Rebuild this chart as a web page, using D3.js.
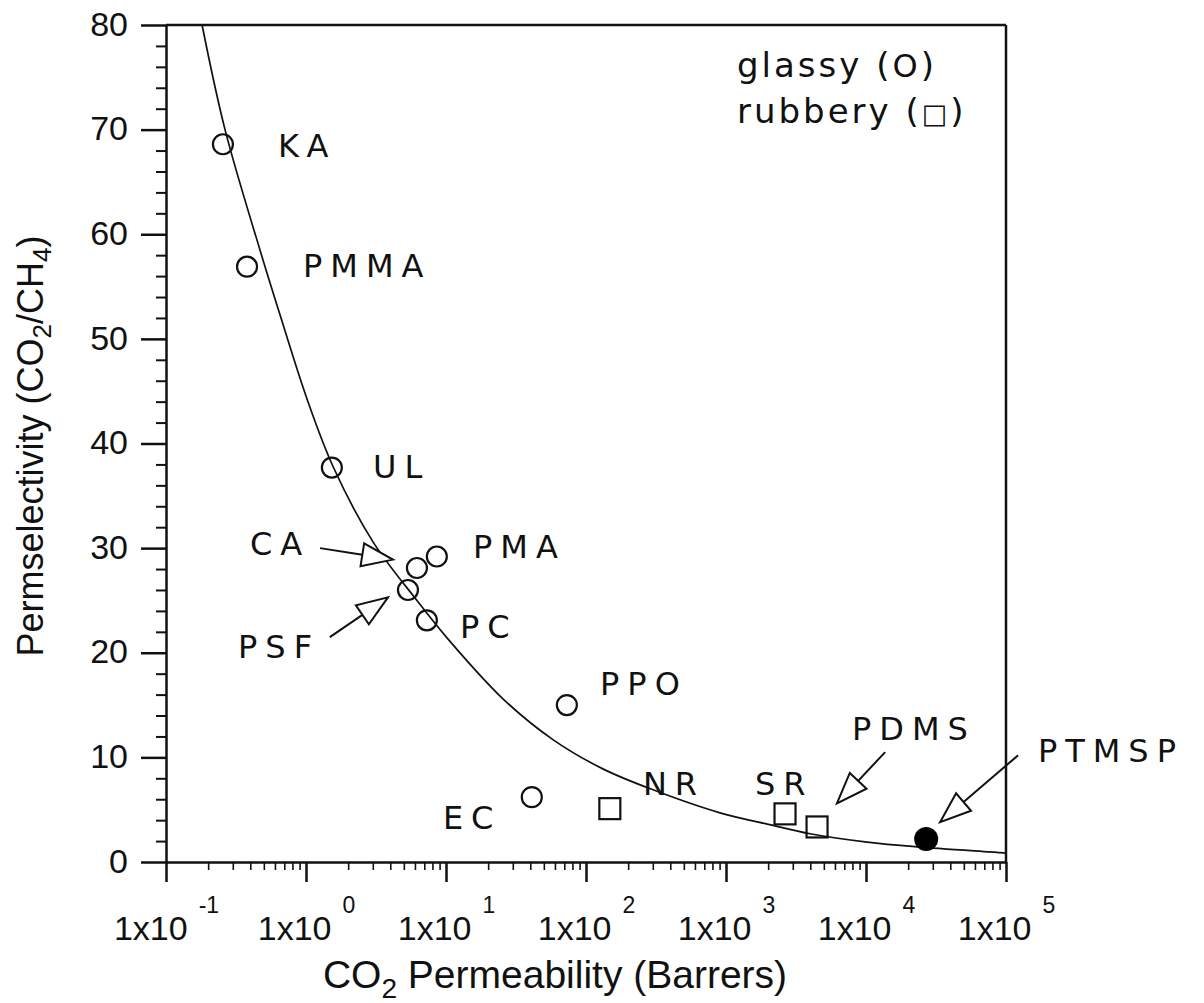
<!DOCTYPE html>
<html>
<head>
<meta charset="utf-8">
<script src="https://cdn.jsdelivr.net/npm/d3@7"></script>
<style>
  body { margin: 0; background: #fff; }
  svg { display: block; }
</style>
</head>
<body>
<div id="chart"></div>
<script>
// points
const polymers    = ["KA", "PMMA", "UL", "CA", "PMA", "PSF", "PC", "PPO", "EC", "NR", "SR", "PDMS", "PTMSP"];
const co2Perm     = [0.255, 0.379, 1.53, 6.2, 8.6, 5.35, 7.3, 73, 41, 148, 2640, 4470, 26900];
const selectivity = [68.6, 56.9, 37.7, 28.1, 29.2, 26.0, 23.1, 15.0, 6.2, 5.1, 4.6, 3.35, 2.2];
const polymerType = ["glassy", "glassy", "glassy", "glassy", "glassy", "glassy", "glassy", "glassy", "glassy",
                     "rubbery", "rubbery", "rubbery", "ptmsp"];

// where each name is written (data units, left end of baseline)
const labelPerm = [0.631, 0.953, 3.01, 0.398, 15.6, 0.327, 12.6, 126, 9.5, 255, 1610, 7940, 169000];
const labelSel  = [67.4, 55.9, 36.7, 29.35, 29.1, 19.5, 21.4, 16.0, 3.15, 6.4, 6.4, 11.66, 9.56];

// arrows pointing from a label to its point
const arrowFromPerm = [1.26, 1.48, 13700, 122000];
const arrowFromSel  = [30.0, 21.5, 10.5, 10.2];
const arrowToPerm   = [4.18, 3.85, 6200, 33800];
const arrowToSel    = [28.9, 25.3, 5.6, 3.8];

// trade-off curve
const curvePerm = [0.181, 0.264, 0.469, 0.652, 1.02, 1.56, 3.01, 6.2, 10.2, 25.5, 58, 132, 301, 906, 2170, 3980, 10200, 23100, 90600, 100000];
const curveSel  = [80.0, 70.0, 58.5, 52.3, 44.2, 37.8, 30.6, 25.0, 21.4, 15.6, 11.7, 8.9, 6.9, 4.7, 3.5, 2.7, 1.9, 1.45, 0.9, 0.85];

const yTicks     = [0, 10, 20, 30, 40, 50, 60, 70, 80];
const xDecades   = [1e-1, 1e0, 1e1, 1e2, 1e3, 1e4, 1e5];
const xExponents = ["-1", "0", "1", "2", "3", "4", "5"];
const legendNames   = ["glassy", "rubbery"];
const legendSymbols = ["O", "\u25A1"];

const width = 1204, height = 1003;
const margin = {top: 25, right: 198, bottom: 141, left: 166};
const innerWidth = width - margin.left - margin.right;
const innerHeight = height - margin.top - margin.bottom;

const svg = d3.select("#chart")
    .append("svg")
    .attr("width", width)
    .attr("height", height)
    .style("background", "#fff");

const g = svg.append("g")
    .attr("transform", `translate(${margin.left},${margin.top})`);

const x = d3.scaleLog().domain([0.1, 1e5]).range([0, innerWidth]);
const y = d3.scaleLinear().domain([0, 80]).range([innerHeight, 0]);

const ink = "#111";
const tickFont = "'Liberation Sans', Arial, sans-serif";
const labelFont = "'DejaVu Sans', sans-serif";

// minor y ticks every 2
const yMinor = d3.range(0, 81, 2).filter(v => v % 10 !== 0);
g.append("g")
    .call(d3.axisLeft(y).tickValues(yMinor).tickSize(10).tickSizeOuter(0).tickFormat(""))
    .call(a => a.select(".domain").remove())
    .call(a => a.selectAll("line").attr("stroke", ink).attr("stroke-width", 2));

// major y ticks
g.append("g")
    .attr("class", "y-axis")
    .call(d3.axisLeft(y).tickValues(yTicks).tickSize(25).tickSizeOuter(0).tickPadding(13))
    .call(a => a.select(".domain").attr("stroke", ink).attr("stroke-width", 2.5))
    .call(a => a.selectAll("line").attr("stroke", ink).attr("stroke-width", 2.5))
    .call(a => a.selectAll("text")
        .attr("font-family", tickFont)
        .attr("font-size", 34)
        .attr("fill", ink)
        .attr("dy", "0.3em"));

// minor x ticks 2..9 in each decade
const xMinor = [];
xDecades.slice(0, -1).forEach(d => { for (let k = 2; k <= 9; k++) xMinor.push(d * k); });
g.append("g")
    .attr("transform", `translate(0,${innerHeight})`)
    .call(d3.axisBottom(x).tickValues(xMinor).tickSize(8).tickSizeOuter(0).tickFormat(""))
    .call(a => a.select(".domain").remove())
    .call(a => a.selectAll("line").attr("stroke", ink).attr("stroke-width", 1.6));

// major x ticks with 1x10^n labels
const xAxis = g.append("g")
    .attr("class", "x-axis")
    .attr("transform", `translate(0,${innerHeight})`)
    .call(d3.axisBottom(x).tickValues(xDecades).tickSize(20).tickSizeOuter(0).tickFormat(() => "1x10"))
    .call(a => a.select(".domain").attr("stroke", ink).attr("stroke-width", 2.5))
    .call(a => a.selectAll("line").attr("stroke", ink).attr("stroke-width", 2.5));

xAxis.selectAll("text")
    .attr("y", 78)
    .attr("dy", null)
    .attr("font-family", tickFont)
    .attr("font-size", 34)
    .attr("fill", ink)
    .each(function(d, i) {
        d3.select(this).append("tspan")
            .attr("dx", 11)
            .attr("dy", -27)
            .attr("font-size", 23)
            .text(xExponents[i]);
    });

// box: top and right edges
g.append("line")
    .attr("x1", 0).attr("x2", innerWidth)
    .attr("y1", 0).attr("y2", 0)
    .attr("stroke", ink).attr("stroke-width", 2.5);
g.append("line")
    .attr("x1", innerWidth).attr("x2", innerWidth)
    .attr("y1", 0).attr("y2", innerHeight)
    .attr("stroke", ink).attr("stroke-width", 2.5);

// trade-off line
const curveData = curvePerm.map((p, i) => ({perm: p, sel: curveSel[i]}));
const lineGen = d3.line()
    .x(d => x(d.perm))
    .y(d => y(d.sel))
    .curve(d3.curveCatmullRom.alpha(0.5));

g.append("path")
    .datum(curveData)
    .attr("d", lineGen)
    .attr("fill", "none")
    .attr("stroke", ink)
    .attr("stroke-width", 1.7);

// markers
const points = polymers.map((name, i) => ({
    name, perm: co2Perm[i], sel: selectivity[i], type: polymerType[i],
    lp: labelPerm[i], ls: labelSel[i]
}));

g.selectAll(".glassy")
    .data(points.filter(d => d.type === "glassy"))
    .join("circle")
    .attr("class", "glassy")
    .attr("cx", d => x(d.perm))
    .attr("cy", d => y(d.sel))
    .attr("r", 10)
    .attr("fill", "none")
    .attr("stroke", ink)
    .attr("stroke-width", 2.2);

g.selectAll(".rubbery")
    .data(points.filter(d => d.type === "rubbery"))
    .join("rect")
    .attr("class", "rubbery")
    .attr("x", d => x(d.perm) - 10.5)
    .attr("y", d => y(d.sel) - 10.5)
    .attr("width", 21)
    .attr("height", 21)
    .attr("fill", "none")
    .attr("stroke", ink)
    .attr("stroke-width", 2.2);

g.selectAll(".ptmsp")
    .data(points.filter(d => d.type === "ptmsp"))
    .join("circle")
    .attr("class", "ptmsp")
    .attr("cx", d => x(d.perm))
    .attr("cy", d => y(d.sel))
    .attr("r", 12)
    .attr("fill", "#000");

// names
g.selectAll(".name")
    .data(points)
    .join("text")
    .attr("class", "name")
    .attr("x", d => x(d.lp))
    .attr("y", d => y(d.ls))
    .attr("font-family", labelFont)
    .attr("font-size", 32)
    .attr("letter-spacing", 8)
    .attr("fill", ink)
    .text(d => d.name);

// open-headed arrows
const arrows = arrowFromPerm.map((p, i) => ({
    x1: x(p), y1: y(arrowFromSel[i]),
    x2: x(arrowToPerm[i]), y2: y(arrowToSel[i])
}));
const headLen = 31, headHalf = 11.5;
arrows.forEach(a => {
    const dx = a.x2 - a.x1, dy = a.y2 - a.y1;
    const len = Math.hypot(dx, dy);
    const ux = dx / len, uy = dy / len;
    const bx = a.x2 - ux * headLen, by = a.y2 - uy * headLen;
    g.append("line")
        .attr("x1", a.x1).attr("y1", a.y1)
        .attr("x2", bx).attr("y2", by)
        .attr("stroke", ink).attr("stroke-width", 2);
    const pts = [
        [a.x2, a.y2],
        [bx - uy * headHalf, by + ux * headHalf],
        [bx + uy * headHalf, by - ux * headHalf]
    ];
    g.append("path")
        .attr("d", "M" + pts.map(p => p.join(",")).join("L") + "Z")
        .attr("fill", "#fff")
        .attr("stroke", ink)
        .attr("stroke-width", 2)
        .attr("stroke-linejoin", "miter");
});

// legend (top right, inside the box)
const legend = svg.selectAll(".legend")
    .data(legendNames)
    .join("text")
    .attr("class", "legend")
    .attr("x", 737)
    .attr("y", (d, i) => 77 + i * 46)
    .attr("font-family", labelFont)
    .attr("font-size", 34)
    .attr("letter-spacing", 3)
    .attr("fill", ink);
legend.append("tspan").text(d => d + " (");
legend.append("tspan")
    .attr("font-size", (d, i) => i === 0 ? 32 : 27)
    .text((d, i) => legendSymbols[i]);
legend.append("tspan").text(")");

// axis titles
const xTitle = svg.append("text")
    .attr("x", 555)
    .attr("y", 988)
    .attr("text-anchor", "middle")
    .attr("font-family", tickFont)
    .attr("font-size", 39)
    .attr("fill", ink);
xTitle.append("tspan").text("CO");
xTitle.append("tspan").attr("font-size", 28).attr("dy", 10).text("2");
xTitle.append("tspan").attr("dy", -10).text(" Permeability (Barrers)");

const yTitle = svg.append("text")
    .attr("transform", "translate(43,446) rotate(-90)")
    .attr("text-anchor", "middle")
    .attr("font-family", tickFont)
    .attr("font-size", 36)
    .attr("fill", ink);
yTitle.append("tspan").text("Permselectivity (CO");
yTitle.append("tspan").attr("font-size", 26).attr("dy", 8).text("2");
yTitle.append("tspan").attr("dy", -8).text("/CH");
yTitle.append("tspan").attr("font-size", 26).attr("dy", 8).text("4");
yTitle.append("tspan").attr("dy", -8).text(")");
</script>
</body>
</html>
